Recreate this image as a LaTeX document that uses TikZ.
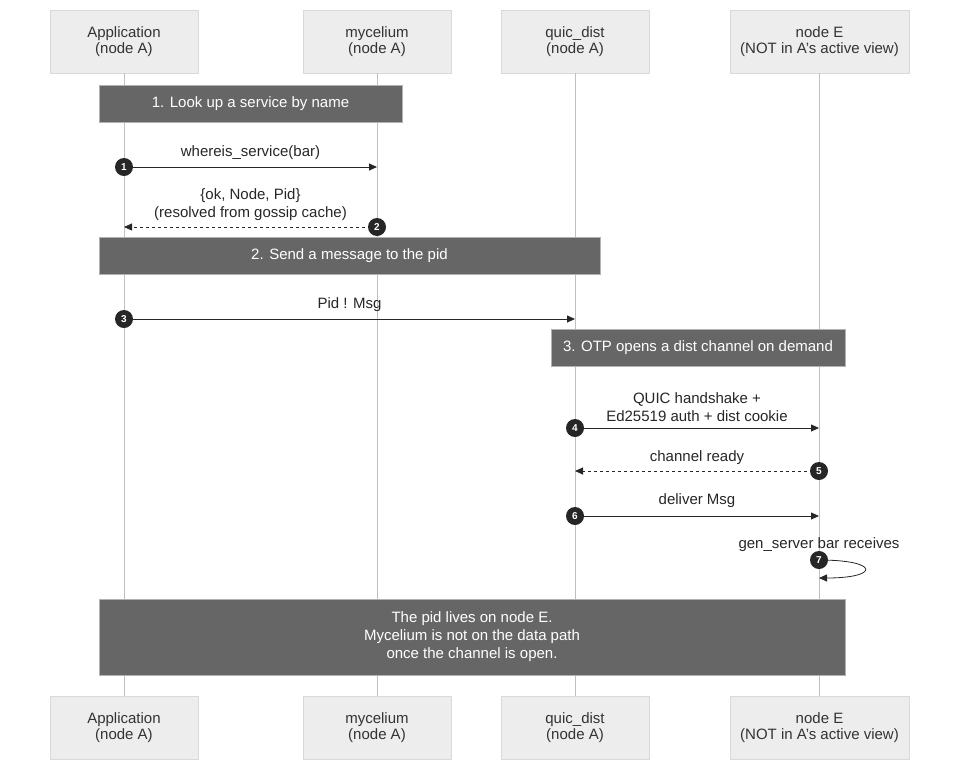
\documentclass[tikz,border=0pt]{standalone}
\usepackage{fontspec}
\setmainfont{Liberation Sans}
\usetikzlibrary{arrows.meta,positioning}
\tikzset{
  actor/.style={draw=black!15,fill=black!7,minimum width=148pt,minimum height=63pt,align=center,font=\fontsize{15}{16}\selectfont,text=black!80},
  note/.style={draw=black!30,fill=black!60,text=white,align=center,font=\fontsize{15}{18}\selectfont},
  life/.style={draw=black!25,line width=1pt},
  msg/.style={-{Triangle[length=8pt,width=7pt]},line width=0.8pt,draw=black!85},
  rep/.style={msg,dashed},
  lbl/.style={font=\fontsize{15}{18}\selectfont,align=center,text=black!85},
  num/.style={circle,fill=black!85,text=white,inner sep=0pt,minimum size=18pt,font=\fontsize{10}{10}\selectfont\bfseries}
}
\begin{document}
\begin{tikzpicture}[x=1pt,y=-1pt]
\useasboundingbox (0,0) rectangle (967,777);
% actors
\node[actor] (appT) at (124,41.5) {Application\\(node A)};
\node[actor] (myT) at (377,41.5) {mycelium\\(node A)};
\node[actor] (qdT) at (575,41.5) {quic\_dist\\(node A)};
\node[actor,minimum width=179pt] (neT) at (819.5,41.5) {node E\\(NOT in A's active view)};
\node[actor] (appB) at (124,728) {Application\\(node A)};
\node[actor] (myB) at (377,728) {mycelium\\(node A)};
\node[actor] (qdB) at (575,728) {quic\_dist\\(node A)};
\node[actor,minimum width=179pt] (neB) at (819.5,728) {node E\\(NOT in A's active view)};
\foreach \a in {app,my,qd}
  \draw[life] (\a T.south) -- (\a B.north);
\draw[life] (819,73) -- (819,696);
% notes
\node[note,minimum width=303pt,minimum height=37pt] (n1) at (250.5,103.5) {1. Look up a service by name};
\node[note,minimum width=501pt,minimum height=37pt] (n2) at (349.5,256) {2. Send a message to the pid};
\node[note,minimum width=294pt,minimum height=37pt] (n3) at (698,348) {3. OTP opens a dist channel on demand};
\node[note,minimum width=746pt,minimum height=76pt] (n4) at (472,637) {The pid lives on node E.\\Mycelium is not on the data path\\once the channel is open.};
% messages
\coordinate (a1) at (124,167); \coordinate (b1) at (377,167);
\coordinate (a2) at (377,227); \coordinate (b2) at (124,227);
\coordinate (a3) at (124,319); \coordinate (b3) at (575,319);
\coordinate (a4) at (575,428); \coordinate (b4) at (819,428);
\coordinate (a5) at (819,471); \coordinate (b5) at (575,471);
\coordinate (a6) at (575,516); \coordinate (b6) at (819,516);
\coordinate (a7) at (819,560); \coordinate (b7) at (819,578);
\draw[msg] (a1) -- (b1);
\draw[rep] (a2) -- (b2);
\draw[msg] (a3) -- (b3);
\draw[msg] (a4) -- (b4);
\draw[rep] (a5) -- (b5);
\draw[msg] (a6) -- (b6);
\draw[msg] (a7) .. controls (880,560) and (880,578) .. (b7);
% labels
\node[lbl] (l1) at (250.5,153) {whereis\_service(bar)};
\node[lbl] (l2) at (250.5,205) {\{ok, Node, Pid\}\\(resolved from gossip cache)};
\node[lbl] (l3) at (349.5,305) {Pid ! Msg};
\node[lbl] (l4) at (697,407) {QUIC handshake +\\Ed25519 auth + dist cookie};
\node[lbl] (l5) at (697,458) {channel ready};
\node[lbl] (l6) at (697,501) {deliver Msg};
\node[lbl] (l7) at (819,545) {gen\_server bar receives};
% numbers
\foreach \i in {1,...,7}
  \node[num] (c\i) at (a\i) {\i};
\end{tikzpicture}
\end{document}
